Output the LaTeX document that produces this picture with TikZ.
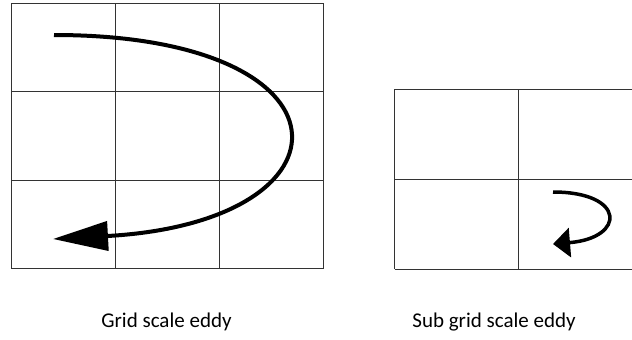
\documentclass[tikz,border=0pt]{standalone}
\usepackage{fontspec}
\setmainfont{Carlito}
\usetikzlibrary{arrows.meta, positioning}

\begin{document}
\begin{tikzpicture}[
  x=1pt, y=-1pt,
  gridline/.style={draw=black!80, line width=1pt},
  eddy/.style={draw, line width=4pt},
  caption/.style={font=\fontsize{21}{25}\selectfont, inner sep=0pt}
]
\clip (0,0) rectangle (632,340);

% grid scale mesh
\foreach \x in {11,115.3,219.3,323.7}
  \draw[gridline] (\x,3.3) -- (\x,268.7);
\foreach \y in {3.3,91.3,180.3,268.7}
  \draw[gridline] (11,\y) -- (323.7,\y);

% sub grid mesh
\foreach \x in {394.7,518.7,642.7}
  \draw[gridline] (\x,89.3) -- (\x,269);
\foreach \y in {89.3,179,269}
  \draw[gridline] (394.7,\y) -- (642.7,\y);

% large eddy
\coordinate (bigstart) at (54,35);
\coordinate (bigend) at (53,239);
\draw[eddy, -{Triangle[length=55pt, width=29pt]}]
  (bigstart) .. controls (362,35) and (362,222) .. (bigend);

% small eddy
\coordinate (smallstart) at (553,192);
\coordinate (smallend) at (553,244);
\draw[eddy, line width=3.5pt, -{Triangle[length=17pt, width=29pt]}]
  (smallstart) .. controls (626,192) and (626,238) .. (smallend);

\node[caption] (gridlabel) at (166.5,322) {Grid scale eddy};
\node[caption] (sublabel) at (494,322) {Sub grid scale eddy};
\end{tikzpicture}
\end{document}
